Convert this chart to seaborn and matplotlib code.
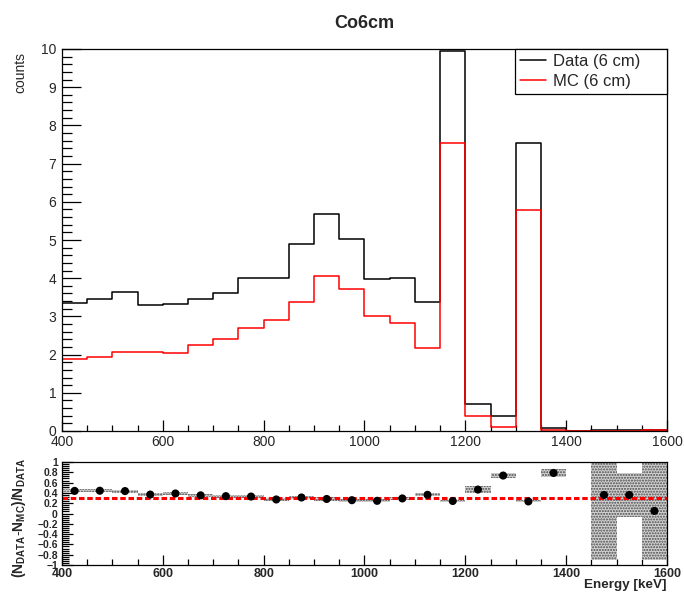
import numpy as np
import pandas as pd
import matplotlib
matplotlib.use("Agg")
import matplotlib.pyplot as plt
from matplotlib.ticker import MultipleLocator, FixedLocator
from matplotlib.lines import Line2D
import seaborn as sns

# ---- spectrum: 24 bins of 50 keV ----
bin_edges = [400, 450, 500, 550, 600, 650, 700, 750, 800, 850, 900, 950, 1000,
             1050, 1100, 1150, 1200, 1250, 1300, 1350, 1400, 1450, 1500, 1550, 1600]
data_counts = [3.35, 3.46, 3.65, 3.29, 3.32, 3.46, 3.62, 4.01, 4.00, 4.89, 5.67, 5.03,
               3.98, 4.00, 3.39, 9.95, 0.71, 0.38, 7.55, 0.080, 0.0, 0.020, 0.020, 0.020]
mc_counts = [1.88, 1.93, 2.06, 2.08, 2.03, 2.24, 2.40, 2.69, 2.91, 3.37, 4.07, 3.73,
             3.00, 2.83, 2.16, 7.53, 0.38, 0.10, 5.78, 0.017, 0.0, 0.0128, 0.0128, 0.019]
# uncertainty on the relative difference per bin
ratio_err = [0.03, 0.03, 0.03, 0.03, 0.03, 0.03, 0.03, 0.03, 0.03, 0.03, 0.03, 0.03,
             0.03, 0.03, 0.03, 0.02, 0.06, 0.05, 0.02, 0.08, 0.0, 1.27, 0.43, 0.96]
mean_diff = 0.31
energy_ticks = [400, 600, 800, 1000, 1200, 1400, 1600]
count_ticks = [0, 1, 2, 3, 4, 5, 6, 7, 8, 9, 10]
diff_ticks = [-1, -0.8, -0.6, -0.4, -0.2, 0, 0.2, 0.4, 0.6, 0.8, 1]
diff_tick_labels = ["\u22121", "\u22120.8", "\u22120.6", "\u22120.4", "\u22120.2", "0",
                    "0.2", "0.4", "0.6", "0.8", "1"]

edges = np.array(bin_edges, dtype=float)
centers = 0.5 * (edges[:-1] + edges[1:])
widths = np.diff(edges)
data = np.array(data_counts)
mc = np.array(mc_counts)
err = np.array(ratio_err)
valid = data > 0
ratio = np.full_like(data, np.nan)
ratio[valid] = (data[valid] - mc[valid]) / data[valid]

spec = pd.DataFrame({"energy": np.concatenate([centers, centers]),
                     "counts": np.concatenate([data, mc]),
                     "sample": ["Data (6 cm)"] * len(centers) + ["MC (6 cm)"] * len(centers)})
diff = pd.DataFrame({"energy": centers[valid], "diff": ratio[valid]})

sns.set_style("ticks")
plt.rcParams["font.family"] = ["Liberation Sans", "DejaVu Sans"]
plt.rcParams["mathtext.fontset"] = "custom"
plt.rcParams["mathtext.rm"] = "Liberation Sans"
plt.rcParams["mathtext.bf"] = "Liberation Sans:bold"
plt.rcParams["hatch.linewidth"] = 1.0

W, H = 684, 592
fig = plt.figure(figsize=(W / 100, H / 100), dpi=100)
fig.patch.set_facecolor("white")

def fx(px):
    return px / W

def fy(py):
    return 1 - py / H

left, right = 62, 667
ax1 = fig.add_axes([fx(left), fy(431), fx(right - left), fy(49) - fy(431)])
ax2 = fig.add_axes([fx(left), fy(565), fx(right - left), fy(462) - fy(565)])

# ---- top panel: spectra ----
colors = {"Data (6 cm)": "black", "MC (6 cm)": "#ff0000"}
for name in ["Data (6 cm)", "MC (6 cm)"]:
    sub = spec[spec["sample"] == name]
    sns.histplot(data=sub, x="energy", weights="counts", bins=bin_edges,
                 element="step", fill=False, color=colors[name], linewidth=1.1,
                 ax=ax1)

ax1.set_xlim(400, 1600)
ax1.set_ylim(0, 10)
ax1.xaxis.set_major_locator(FixedLocator(energy_ticks))
ax1.xaxis.set_minor_locator(MultipleLocator(50))
ax1.yaxis.set_major_locator(FixedLocator(count_ticks))
ax1.yaxis.set_minor_locator(MultipleLocator(0.2))
ax1.set_xticklabels([str(t) for t in energy_ticks])
ax1.set_yticklabels([str(t) for t in count_ticks])
ax1.tick_params(axis="both", which="both", direction="in", color="black",
                labelsize=10, width=0.9, bottom=True, left=True, top=False,
                right=False)
ax1.tick_params(axis="y", which="major", length=14, pad=4)
ax1.tick_params(axis="y", which="minor", length=7)
ax1.tick_params(axis="x", which="major", length=8, pad=3)
ax1.tick_params(axis="x", which="minor", length=4)
for s in ax1.spines.values():
    s.set_visible(True)
    s.set_linewidth(0.9)
    s.set_color("black")
ax1.set_xlabel("")
ax1.set_ylabel("counts", fontsize=10, loc="top")
ax1.yaxis.set_label_coords(-0.058, 0.992)

handles = [Line2D([], [], color="black", lw=1.1), Line2D([], [], color="#ff0000", lw=1.1)]
leg = ax1.legend(handles, ["Data (6 cm)", "MC (6 cm)"], loc="upper left",
                 bbox_to_anchor=(0.749, 0.882, 0.251, 0.118), mode="expand",
                 borderaxespad=0, fontsize=12, frameon=True, fancybox=False,
                 framealpha=1, edgecolor="black", handlelength=1.55,
                 handletextpad=0.4, labelspacing=0.3, borderpad=0.3)
leg.get_frame().set_linewidth(0.9)

fig.text(fx(364), fy(23), "Co6cm", ha="center", va="center", fontsize=13,
         fontweight="bold")

# ---- bottom panel: relative difference ----
ax2.bar(centers[valid], 2 * err[valid], bottom=ratio[valid] - err[valid],
        width=widths[valid], facecolor="#d2d2d2", edgecolor="#4a4a4a",
        hatch="......", linewidth=0, zorder=1)
ax2.axhline(mean_diff, color="#ff0000", lw=2.2, dashes=(1.8, 0.9), zorder=2)
sns.scatterplot(data=diff, x="energy", y="diff", color="black", s=34,
                edgecolor="none", ax=ax2, zorder=3)

ax2.set_xlim(400, 1600)
ax2.set_ylim(-1, 1)
ax2.xaxis.set_major_locator(FixedLocator(energy_ticks))
ax2.xaxis.set_minor_locator(MultipleLocator(50))
ax2.yaxis.set_major_locator(FixedLocator(diff_ticks))
ax2.yaxis.set_minor_locator(MultipleLocator(0.04))
ax2.set_xticklabels([str(t) for t in energy_ticks], fontweight="bold", fontsize=9)
ax2.set_yticklabels(diff_tick_labels, fontweight="bold", fontsize=7.5)
ax2.tick_params(axis="both", which="both", direction="in", color="black", width=0.9,
                bottom=True, left=True, top=False, right=False)
ax2.tick_params(axis="y", which="major", length=8, pad=3)
ax2.tick_params(axis="y", which="minor", length=5)
ax2.tick_params(axis="x", which="major", length=7, pad=2)
ax2.tick_params(axis="x", which="minor", length=4)
for s in ax2.spines.values():
    s.set_visible(True)
    s.set_linewidth(0.9)
    s.set_color("black")
ax2.set_xlabel("Energy [keV]", fontsize=9.7, fontweight="bold", loc="right")
ax2.xaxis.set_label_coords(1.0, -0.135)
ax2.set_ylabel(r"$\mathbf{(N}_{\mathbf{DATA}}\mathbf{\text{-}N}_{\mathbf{MC}}\mathbf{)/N}_{\mathbf{DATA}}$",
               fontsize=10)
ax2.yaxis.set_label_coords(-0.056, 0.46)

fig.savefig("out.png", dpi=100, facecolor="white")
